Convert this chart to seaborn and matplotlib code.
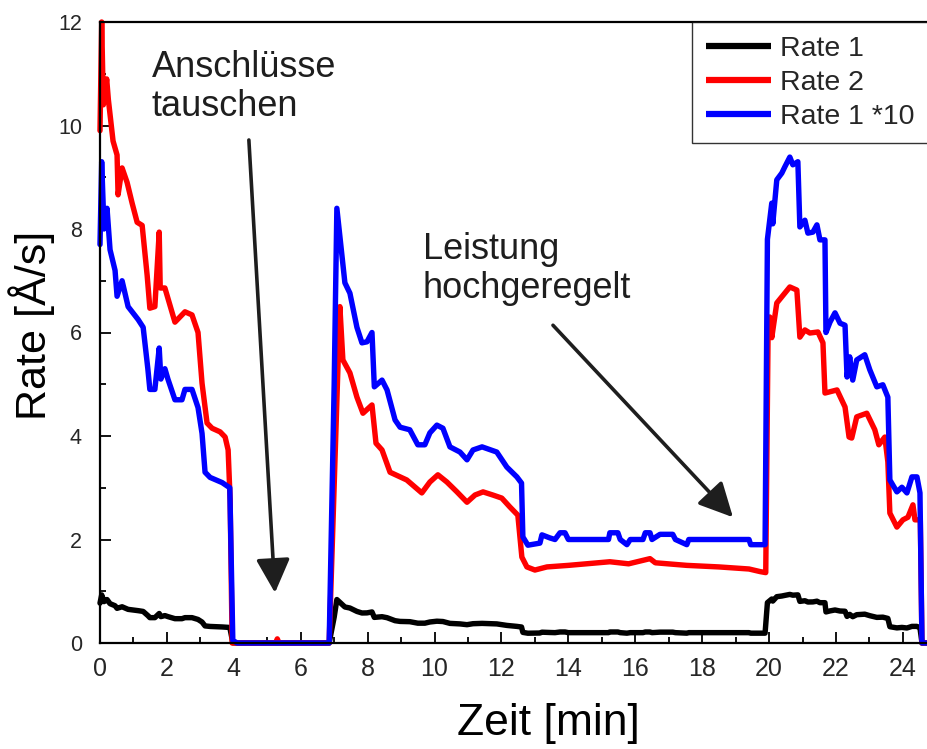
import matplotlib
matplotlib.use("Agg")
import matplotlib.pyplot as plt
from matplotlib.ticker import MultipleLocator
import numpy as np
import pandas as pd
import seaborn as sns

# ---- Rate 1 (Å/s) over time (min) ----
t_rate1 = [0.0, 0.05, 0.12, 0.21, 0.30, 0.45, 0.51, 0.66, 0.84, 1.14, 1.29, 1.43, 1.49,
           1.64, 1.77, 1.82, 1.94, 2.03, 2.24, 2.45, 2.54, 2.75, 2.93, 3.05, 3.14, 3.29,
           3.65, 3.88, 3.97, 4.10, 6.85, 7.00, 7.08, 7.32, 7.47, 7.68, 7.83, 7.98, 8.13,
           8.20, 8.43, 8.58, 8.82, 8.97, 9.26, 9.50, 9.71, 9.86, 10.07, 10.25, 10.46,
           10.76, 10.97, 11.15, 11.42, 11.86, 12.16, 12.46, 12.60, 12.64, 12.79, 13.15,
           13.21, 13.45, 13.60, 13.75, 13.90, 14.00, 15.20, 15.24, 15.48, 15.55, 15.75,
           15.85, 16.23, 16.30, 16.44, 16.50, 16.74, 17.12, 17.20, 17.54, 17.60, 19.40,
           19.45, 19.88, 19.95, 20.08, 20.11, 20.23, 20.38, 20.47, 20.62, 20.71, 20.86,
           20.92, 21.07, 21.16, 21.31, 21.43, 21.52, 21.67, 21.70, 21.82, 21.97, 22.12,
           22.27, 22.33, 22.41, 22.50, 22.62, 22.86, 23.01, 23.22, 23.40, 23.55, 23.61,
           23.82, 23.97, 24.12, 24.27, 24.42, 24.51, 24.57, 24.75]
rate1 = [0.77, 0.93, 0.80, 0.84, 0.76, 0.72, 0.67, 0.70, 0.65, 0.625, 0.61, 0.53, 0.49,
         0.49, 0.57, 0.51, 0.53, 0.51, 0.47, 0.47, 0.49, 0.49, 0.455, 0.405, 0.33, 0.32,
         0.31, 0.30, 0.005, 0.0, 0.0, 0.50, 0.84, 0.696, 0.676, 0.61, 0.58, 0.582, 0.60,
         0.495, 0.508, 0.489, 0.431, 0.417, 0.412, 0.383, 0.383, 0.406, 0.421, 0.415, 0.379,
         0.369, 0.354, 0.373, 0.379, 0.369, 0.34, 0.321, 0.309, 0.205, 0.189, 0.193,
         0.209, 0.203, 0.20, 0.213, 0.213, 0.20, 0.20, 0.213, 0.213, 0.20, 0.19,
         0.20, 0.20, 0.213, 0.213, 0.20, 0.21, 0.21, 0.20, 0.19, 0.20, 0.20,
         0.19, 0.19, 0.78, 0.85, 0.81, 0.895, 0.908, 0.92, 0.939, 0.924, 0.93,
         0.804, 0.817, 0.792, 0.794, 0.808, 0.779, 0.779, 0.60, 0.62, 0.638, 0.618,
         0.614, 0.514, 0.553, 0.508, 0.547, 0.557, 0.528, 0.495, 0.499, 0.475, 0.315,
         0.292, 0.301, 0.29, 0.321, 0.321, 0.29, 0.0, 0.0]

# ---- Rate 2 (Å/s) over time (min) ----
t_rate2 = [0.0, 0.05, 0.10, 0.20, 0.25, 0.39, 0.51, 0.54, 0.66, 0.81, 0.96, 1.11, 1.26,
           1.41, 1.49, 1.64, 1.77, 1.80, 1.94, 2.24, 2.54, 2.75, 2.93, 3.05, 3.20, 3.35,
           3.59, 3.74, 3.83, 3.89, 3.95, 5.25, 5.30, 5.35, 6.85, 7.17, 7.26, 7.47, 7.68,
           7.86, 8.13, 8.25, 8.43, 8.67, 9.17, 9.62, 9.86, 10.10, 10.37, 10.67, 10.97,
           11.21, 11.45, 11.74, 12.01, 12.25, 12.49, 12.61, 12.76, 13.00, 13.36, 14.00,
           15.24, 15.80, 16.44, 16.60, 17.54, 18.50, 19.40, 19.73, 19.90, 19.97, 20.02,
           20.08, 20.23, 20.62, 20.83, 20.92, 21.07, 21.22, 21.46, 21.61, 21.67, 22.03,
           22.27, 22.39, 22.47, 22.62, 22.92, 23.16, 23.28, 23.46, 23.55, 23.61, 23.82,
           24.00, 24.15, 24.30, 24.36, 24.52, 24.57, 24.75]
rate2 = [9.9, 12.0, 10.4, 10.9, 10.5, 9.7, 9.43, 8.66, 9.18, 8.9, 8.5, 8.13, 8.07,
         7.1, 6.47, 6.5, 7.94, 6.86, 6.86, 6.2, 6.4, 6.34, 6.0, 5.02, 4.25, 4.15,
         4.08, 3.98, 3.73, 2.76, 0.0, 0.0, 0.08, 0.0, 0.0, 6.5, 5.47, 5.22, 4.75,
         4.44, 4.6, 3.86, 3.73, 3.3, 3.15, 2.9, 3.11, 3.25, 3.11, 2.92, 2.72,
         2.86, 2.92, 2.86, 2.8, 2.63, 2.47, 1.66, 1.47, 1.41, 1.47, 1.5,
         1.57, 1.53, 1.63, 1.55, 1.5, 1.47, 1.43, 1.38, 1.36, 6.0, 6.3,
         5.9, 6.57, 6.88, 6.82, 5.91, 6.05, 5.99, 6.01, 5.8, 4.83, 4.89,
         4.56, 3.98, 3.96, 4.37, 4.44, 4.12, 3.83, 3.98, 3.5, 2.51, 2.24,
         2.38, 2.43, 2.67, 2.38, 2.38, 0.0, 0.0]

series_labels = ["Rate 1", "Rate 2", "Rate 1 *10"]
series_colors = ["#000000", "#ff0000", "#0000ff"]
x_ticks = [0, 2, 4, 6, 8, 10, 12, 14, 16, 18, 20, 22, 24]
y_ticks = [0, 2, 4, 6, 8, 10, 12]

frames = [
    pd.DataFrame({"Zeit": t_rate1, "Rate": rate1}),
    pd.DataFrame({"Zeit": t_rate2, "Rate": rate2}),
    pd.DataFrame({"Zeit": t_rate1, "Rate": np.asarray(rate1) * 10}),
]

sns.set_style("ticks")
plt.rcParams["font.family"] = ["Liberation Sans", "DejaVu Sans"]
text_color = "#1e1e1e"

fig = plt.figure(figsize=(9.28, 7.49), dpi=100)
ax = fig.add_axes([100 / 928, 1 - 643 / 749, 828 / 928, 621 / 749])

for df, lab, col in zip(frames, series_labels, series_colors):
    sns.lineplot(data=df, x="Zeit", y="Rate", ax=ax, color=col, label=lab,
                 estimator=None, sort=False, linewidth=3.9,
                 solid_joinstyle="round", solid_capstyle="round", clip_on=False)

ax.set_xlim(0, 24.75)
ax.set_ylim(0, 12)
ax.set_xticks(x_ticks)
ax.set_yticks(y_ticks)
ax.xaxis.set_minor_locator(MultipleLocator(1))
ax.yaxis.set_minor_locator(MultipleLocator(1))
ax.tick_params(which="both", direction="in", width=1.3, color="black",
               top=False, right=False)
ax.tick_params(which="major", length=8)
ax.tick_params(which="minor", length=4)
ax.tick_params(axis="x", labelsize=18, pad=10)
ax.tick_params(axis="y", labelsize=15.5, pad=13)

for side in ["left", "bottom", "top"]:
    ax.spines[side].set_visible(True)
    ax.spines[side].set_linewidth(1.6)
    ax.spines[side].set_color("black")
ax.spines["right"].set_visible(False)

ax.set_xlabel("Zeit [min]", fontsize=32, color="black")
ax.set_ylabel("Rate [Å/s]", fontsize=31, color="black")
ax.xaxis.label.set_va("center")
ax.yaxis.label.set_va("center")
ax.xaxis.set_label_coords(0.542, -0.13)
ax.yaxis.set_label_coords(-0.083, 0.512)

# annotations
ax.text(1.55, 11.45, "Anschlüsse\ntauschen", fontsize=26, color=text_color,
        ha="left", va="top", linespacing=1.12)
ax.text(9.65, 7.95, "Leistung\nhochgeregelt", fontsize=26, color=text_color,
        ha="left", va="top", linespacing=1.17)
arrow_kw = dict(arrowstyle="-|>", color=text_color, lw=2.6, mutation_scale=52,
                shrinkA=0, shrinkB=0)
ax.annotate("", xy=(5.23, 0.97), xytext=(4.45, 9.72), arrowprops=arrow_kw)
ax.annotate("", xy=(18.92, 2.43), xytext=(13.54, 6.14), arrowprops=arrow_kw)

leg = ax.legend(loc="upper left", bbox_to_anchor=(692 / 928, 1 - 22 / 749),
                bbox_transform=fig.transFigure, fontsize=20.5, frameon=True,
                fancybox=False, edgecolor="black", handlelength=2.3,
                handletextpad=0.3, labelspacing=0.28, borderpad=0.48,
                borderaxespad=0.0)
leg.get_frame().set_linewidth(1.0)
for line in leg.get_lines():
    line.set_linewidth(4.5)
    line.set_solid_capstyle("butt")

fig.savefig("out.png", dpi=100)
